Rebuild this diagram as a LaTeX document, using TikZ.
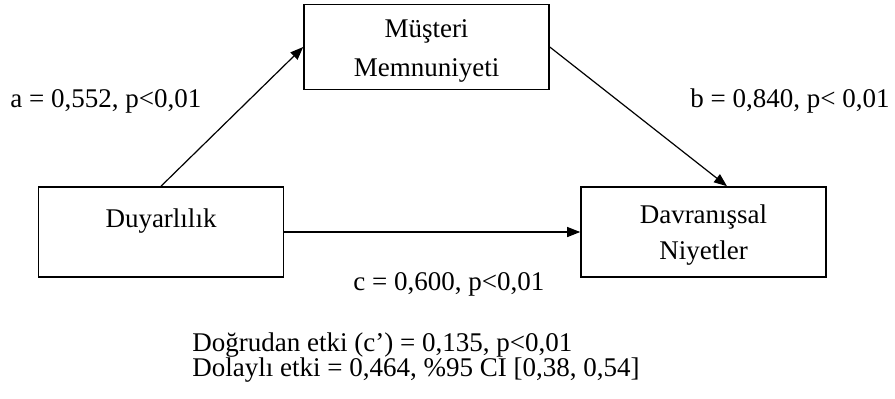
\documentclass[tikz,border=0pt]{standalone}
\usepackage{fontspec}
\setmainfont{Liberation Serif}
\usetikzlibrary{arrows.meta,positioning}
\newcommand{\topstrut}[1]{\rule{0pt}{#1}}
\newcommand{\botstrut}[1]{\rule[-#1]{0pt}{0pt}}
\tikzset{
  box/.style={draw, line width=0.8pt, minimum width=122.5pt, minimum height=45pt, align=center, inner sep=0pt, font=\fontsize{13.5}{18}\selectfont},
  path arrow/.style={-{Triangle[length=6.5pt, width=5pt]}, line width=0.6pt},
  coef/.style={anchor=base west, inner sep=0pt, font=\fontsize{13.5}{16}\selectfont},
}

\begin{document}
\begin{tikzpicture}[x=0.5pt, y=-0.5pt]
  \useasboundingbox (0,0) rectangle (895,398);

  % Boxes
  \node[box, minimum height=42.4pt, font=\fontsize{13.5}{19.2}\selectfont] (mm) at (426.5,47)
    {\topstrut{16.6pt}Müşteri\\Memnuniyeti\botstrut{6.6pt}};
  \node[box] (dy) at (161,232) {\topstrut{20pt}Duyarlılık\botstrut{25pt}};
  \node[box] (dn) at (703.5,232) {\topstrut{18pt}Davranışsal\\Niyetler\botstrut{9pt}};

  % Arrows
  \draw[path arrow] (dy.north) -- (mm.west);
  \draw[path arrow] (mm.east) -- ([xshift=11.75pt]dn.north);
  \draw[path arrow] (dy.east) -- (dn.west);

  % Labels
  \node[coef] (la) at (10,107) {a = 0,552, p<0,01};
  \node[coef] (lb) at (690,107) {b = 0,840, p< 0,01};
  \node[coef] (lc) at (353,290) {c = 0,600, p<0,01};
  \node[coef] (ld) at (192,351) {Doğrudan etki (c’) = 0,135, p<0,01};
  \node[coef] (le) at (192,376) {Dolaylı etki = 0,464, \%95 CI [0,38, 0,54]};
\end{tikzpicture}
\end{document}
